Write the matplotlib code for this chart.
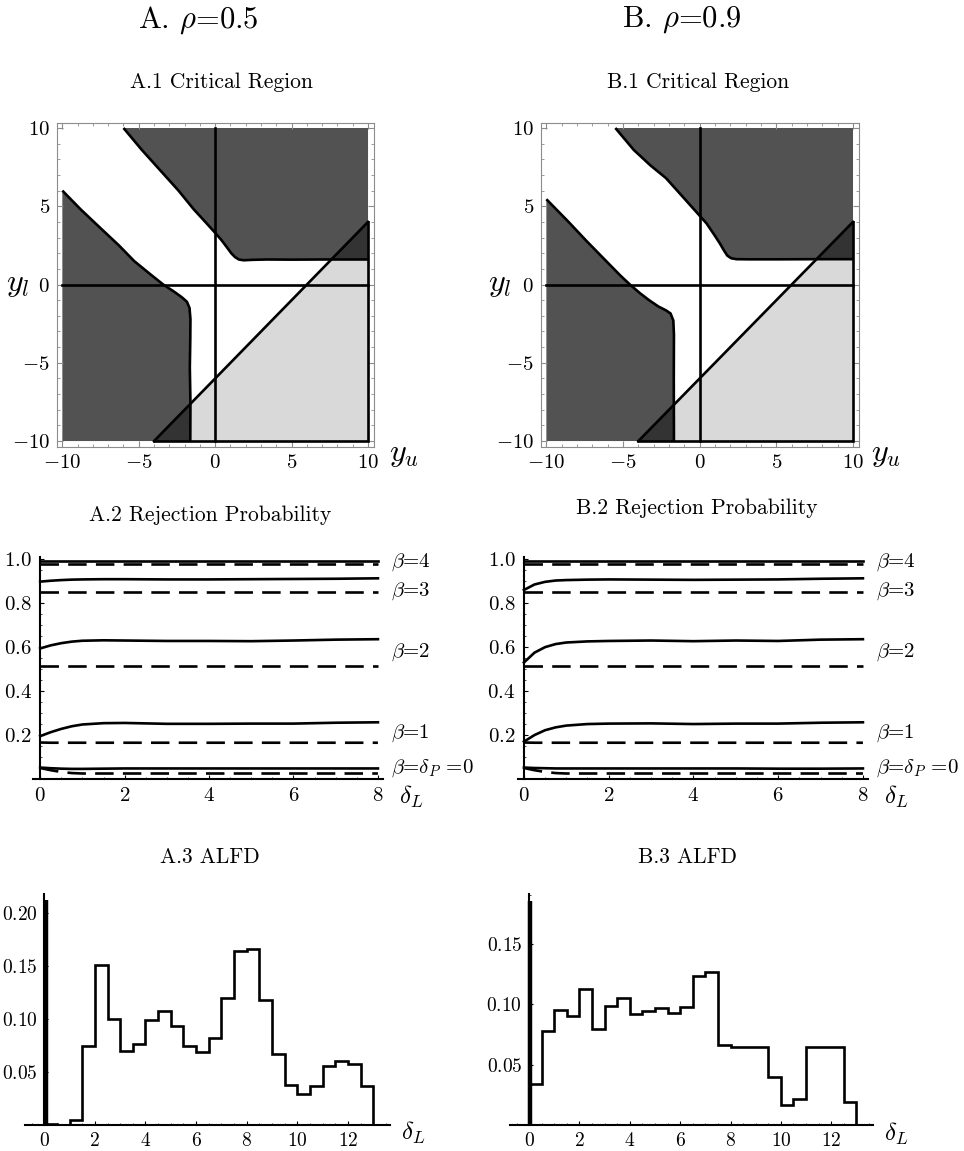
import numpy as np
import matplotlib
matplotlib.use("Agg")
import matplotlib.pyplot as plt
from matplotlib.ticker import MultipleLocator

plt.rcParams['font.family'] = ['cmr10', 'DejaVu Serif']
plt.rcParams['mathtext.fontset'] = 'cm'
plt.rcParams['axes.unicode_minus'] = False

W, H = 964, 1151

# ---- critical region boundaries ----
# upper-right dark region boundary, left to right
A_upper_x = [-6.0, -4.8, -3.6, -2.4, -1.4, -0.6, 0.0, 0.4, 0.75, 1.05, 1.3, 1.55, 1.85, 2.5, 3.4, 5.0, 7.0, 10.0]
A_upper_y = [10.0, 8.6, 7.3, 6.0, 4.8, 3.95, 3.3, 2.85, 2.4, 2.0, 1.75, 1.6, 1.55, 1.58, 1.6, 1.59, 1.6, 1.6]
# lower-left dark region boundary, top to bottom
A_lower_x = [-10.0, -8.8, -7.5, -6.3, -5.3, -4.3, -3.4, -2.7, -2.2, -1.85, -1.68, -1.62, -1.63, -1.66, -1.62, -1.63]
A_lower_y = [6.0, 4.8, 3.6, 2.5, 1.5, 0.7, 0.0, -0.45, -0.8, -1.1, -1.5, -2.2, -3.5, -5.3, -7.5, -10.0]

B_upper_x = [-5.5, -4.3, -3.2, -2.2, -1.1, -0.05, 0.45, 0.9, 1.3, 1.6, 1.8, 2.05, 2.4, 3.2, 5.0, 7.5, 10.0]
B_upper_y = [10.0, 8.6, 7.6, 6.8, 5.6, 4.45, 3.9, 3.25, 2.65, 2.15, 1.85, 1.68, 1.62, 1.61, 1.61, 1.62, 1.62]
B_lower_x = [-10.0, -8.6, -7.4, -6.2, -5.2, -4.55, -3.9, -3.3, -2.7, -2.2, -1.9, -1.72, -1.68, -1.69, -1.68]
B_lower_y = [5.45, 4.05, 2.8, 1.6, 0.6, 0.0, -0.55, -1.0, -1.4, -1.65, -1.85, -2.3, -3.2, -6.0, -10.0]

diag_offset = -6.0   # light region: y < x + diag_offset

# ---- rejection probabilities ----
delta = [0, 0.25, 0.5, 0.75, 1, 1.5, 2, 3, 4, 5, 6, 7, 8]
betas = ['4', '3', '2', '1', '0']

A_solid = {
    '4': [0.99] * 13,
    '3': [0.898, 0.902, 0.905, 0.907, 0.908, 0.909, 0.909, 0.908, 0.908, 0.909, 0.910, 0.911, 0.913],
    '2': [0.594, 0.608, 0.618, 0.625, 0.629, 0.631, 0.630, 0.628, 0.628, 0.627, 0.630, 0.634, 0.636],
    '1': [0.195, 0.213, 0.228, 0.240, 0.248, 0.254, 0.255, 0.251, 0.251, 0.252, 0.252, 0.256, 0.258],
    '0': [0.052, 0.049, 0.047, 0.046, 0.046, 0.047, 0.048, 0.048, 0.048, 0.048, 0.048, 0.048, 0.048],
}
B_solid = {
    '4': [0.99] * 13,
    '3': [0.860, 0.885, 0.897, 0.903, 0.905, 0.907, 0.908, 0.907, 0.906, 0.907, 0.908, 0.911, 0.913],
    '2': [0.530, 0.575, 0.600, 0.614, 0.621, 0.626, 0.628, 0.630, 0.627, 0.630, 0.628, 0.634, 0.636],
    '1': [0.170, 0.200, 0.222, 0.235, 0.243, 0.250, 0.252, 0.253, 0.250, 0.252, 0.252, 0.256, 0.258],
    '0': [0.052, 0.050, 0.049, 0.048, 0.048, 0.048, 0.048, 0.048, 0.048, 0.048, 0.047, 0.047, 0.048],
}
dashed = {
    '4': [0.978] * 13,
    '3': [0.85] * 13,
    '2': [0.515] * 13,
    '1': [0.166, 0.165, 0.165, 0.165, 0.165, 0.165, 0.165, 0.165, 0.165, 0.165, 0.165, 0.165, 0.165],
    '0': [0.050, 0.040, 0.032, 0.027, 0.025, 0.025, 0.025, 0.025, 0.025, 0.025, 0.025, 0.025, 0.025],
}
beta_labels = {'4': r'$\beta$=4', '3': r'$\beta$=3', '2': r'$\beta$=2', '1': r'$\beta$=1',
               '0': r'$\beta$=$\delta_P$ =0'}
label_y = {'4': 0.986, '3': 0.855, '2': 0.577, '1': 0.209, '0': 0.05}

# ---- ALFD histograms ----
bin_edges = np.arange(0, 13.5, 0.5)
A_alfd = [0.001, 0.0, 0.005, 0.075, 0.151, 0.100, 0.0696, 0.0762, 0.099, 0.1075, 0.093, 0.075, 0.0687,
          0.082, 0.120, 0.1646, 0.166, 0.1176, 0.0668, 0.038, 0.0295, 0.0365, 0.0554, 0.060, 0.058, 0.037]
B_alfd = [0.0335, 0.0775, 0.0949, 0.090, 0.1122, 0.0797, 0.0985, 0.1048, 0.0916, 0.0943, 0.0971, 0.093,
          0.0976, 0.1235, 0.1263, 0.066, 0.0646, 0.0646, 0.0646, 0.0398, 0.0164, 0.0216, 0.0646, 0.0646,
          0.0646, 0.019]
A_spike = 0.212
B_spike = 0.185

DARK = '#525252'
DARKER = '#333333'
LIGHT = '#d9d9d9'
FRAME = '#8c8c8c'


def add_ax(left, top, right, bottom):
    return fig.add_axes([left / W, 1 - bottom / H, (right - left) / W, (bottom - top) / H])


def critical_region(ax, ux, uy, lx, ly):
    h = uy[-1]
    v = lx[-1]
    # light region below the diagonal
    ax.fill([-10 - diag_offset, 10, 10], [-10, 10 + diag_offset, -10], color=LIGHT, lw=0)
    # dark regions
    ax.fill(ux + [10, ux[0]], uy + [10, 10], color=DARK, lw=0)
    ax.fill(lx + [-10], ly + [-10], color=DARK, lw=0)
    # overlaps
    ax.fill([h - diag_offset, 10, 10], [h, 10 + diag_offset, h], color=DARKER, lw=0)
    ax.fill([-10 - diag_offset, v, v], [-10, v + diag_offset, -10], color=DARKER, lw=0)
    lw = 1.9
    ax.plot(ux, uy, color='black', lw=lw, solid_capstyle='butt')
    ax.plot(lx, ly, color='black', lw=lw, solid_capstyle='butt')
    ax.plot([0, 0], [-10, 10], color='black', lw=lw)
    ax.plot([-10, 10], [0, 0], color='black', lw=lw)
    ax.plot([-10 - diag_offset, 10], [-10, 10 + diag_offset], color='black', lw=lw)
    ax.plot([-10 - diag_offset, 10, 10], [-10, -10, 10 + diag_offset], color='black', lw=lw,
            solid_joinstyle='miter')
    ax.set_xlim(-10.35, 10.39)
    ax.set_ylim(-10.38, 10.32)
    for s in ax.spines.values():
        s.set_color(FRAME)
        s.set_linewidth(0.8)
    ticks = [-10, -5, 0, 5, 10]
    labs = ['$-10$', '$-5$', '$0$', '$5$', '$10$']
    ax.set_xticks(ticks, labs)
    ax.set_yticks(ticks, labs)
    ax.xaxis.set_minor_locator(MultipleLocator(1))
    ax.yaxis.set_minor_locator(MultipleLocator(1))
    ax.tick_params(which='both', direction='in', color=FRAME, top=True, right=True, labelsize=15)
    ax.tick_params(which='major', length=4, width=0.8, pad=5)
    ax.tick_params(which='minor', length=2, width=0.6)


def rejection(ax, solid, xmin):
    for b in betas:
        ax.plot(delta, solid[b], color='black', lw=1.9)
        ax.plot(delta, dashed[b], color='black', lw=1.9, linestyle=(0, (7, 3.5)))
        ax.text(8.3, label_y[b], beta_labels[b], fontsize=15, va='center', ha='left')
    ax.text(8.5, -0.08, r'$\delta_L$', fontsize=18, va='center', ha='left')
    ax.set_xlim(xmin, 8.12)
    ax.set_ylim(0, 1.01)
    ax.spines['top'].set_visible(False)
    ax.spines['right'].set_visible(False)
    ax.spines['left'].set_position(('data', 0))
    for s in ['left', 'bottom']:
        ax.spines[s].set_linewidth(1.5)
    ax.set_xticks([0, 2, 4, 6, 8], ['$0$', '$2$', '$4$', '$6$', '$8$'])
    ax.set_yticks([0.2, 0.4, 0.6, 0.8, 1.0], ['$0.2$', '$0.4$', '$0.6$', '$0.8$', '$1.0$'])
    ax.xaxis.set_minor_locator(MultipleLocator(0.5))
    ax.yaxis.set_minor_locator(MultipleLocator(0.05))
    ax.tick_params(which='both', direction='in', labelsize=15)
    ax.tick_params(which='major', length=3, width=0.8, pad=6)
    ax.tick_params(which='minor', length=1.5, width=0.5)


def alfd(ax, vals, spike, ytop, yticks, ylabs):
    ax.stairs(vals, bin_edges, color='black', lw=1.9, baseline=0)
    ax.plot([0.05, 0.05], [0, spike], color='black', lw=3.2, solid_capstyle='butt')
    ax.text(14.1, -0.007, r'$\delta_L$', fontsize=18, va='center', ha='left')
    ax.set_xlim(-0.76, 13.66)
    ax.set_ylim(0, ytop)
    ax.spines['top'].set_visible(False)
    ax.spines['right'].set_visible(False)
    ax.spines['left'].set_position(('data', 0))
    for s in ['left', 'bottom']:
        ax.spines[s].set_linewidth(1.5)
    ax.set_xticks([0, 2, 4, 6, 8, 10, 12], ['$0$', '$2$', '$4$', '$6$', '$8$', '$10$', '$12$'])
    ax.set_yticks(yticks, ylabs)
    ax.xaxis.set_minor_locator(MultipleLocator(0.5))
    ax.yaxis.set_minor_locator(MultipleLocator(0.01))
    ax.tick_params(which='both', direction='in', labelsize=14)
    ax.tick_params(which='major', length=3, width=0.8, pad=5)
    ax.tick_params(which='minor', length=1.5, width=0.5)


fig = plt.figure(figsize=(W / 100, H / 100), dpi=100)

fig.text(198 / W, 1 - 20 / H, r'A. $\rho$=0.5', fontsize=22, ha='center', va='center')
fig.text(682 / W, 1 - 20 / H, r'B. $\rho$=0.9', fontsize=22, ha='center', va='center')
fig.text(221 / W, 1 - 82 / H, 'A.1 Critical Region', fontsize=15.5, ha='center', va='center')
fig.text(698 / W, 1 - 82 / H, 'B.1 Critical Region', fontsize=15.5, ha='center', va='center')
fig.text(210 / W, 1 - 515 / H, 'A.2 Rejection Probability', fontsize=15.5, ha='center', va='center')
fig.text(697 / W, 1 - 508 / H, 'B.2 Rejection Probability', fontsize=15.5, ha='center', va='center')
fig.text(210 / W, 1 - 857 / H, 'A.3 ALFD', fontsize=15.5, ha='center', va='center')
fig.text(688 / W, 1 - 857 / H, 'B.3 ALFD', fontsize=15.5, ha='center', va='center')

# critical regions
axA1 = add_ax(57, 123, 374, 447)
critical_region(axA1, A_upper_x, A_upper_y, A_lower_x, A_lower_y)
axB1 = add_ax(541, 123, 859, 447)
critical_region(axB1, B_upper_x, B_upper_y, B_lower_x, B_lower_y)
fig.text(18 / W, 1 - 285 / H, r'$y_l$', fontsize=23, ha='center', va='center')
fig.text(500 / W, 1 - 285 / H, r'$y_l$', fontsize=23, ha='center', va='center')
fig.text(404 / W, 1 - 455 / H, r'$y_u$', fontsize=23, ha='center', va='center')
fig.text(886 / W, 1 - 455 / H, r'$y_u$', fontsize=23, ha='center', va='center')

# rejection probabilities
axA2 = add_ax(33, 557, 383, 779)
rejection(axA2, A_solid, -0.17)
axB2 = add_ax(518, 557, 868, 779)
rejection(axB2, B_solid, -0.14)

# ALFD
axA3 = add_ax(25, 894, 390, 1125)
alfd(axA3, A_alfd, A_spike, 0.218, [0.05, 0.10, 0.15, 0.20], ['$0.05$', '$0.10$', '$0.15$', '$0.20$'])
axB3 = add_ax(510, 894, 873, 1125)
alfd(axB3, B_alfd, B_spike, 0.191, [0.05, 0.10, 0.15], ['$0.05$', '$0.10$', '$0.15$'])

fig.savefig('out.png', dpi=100)
